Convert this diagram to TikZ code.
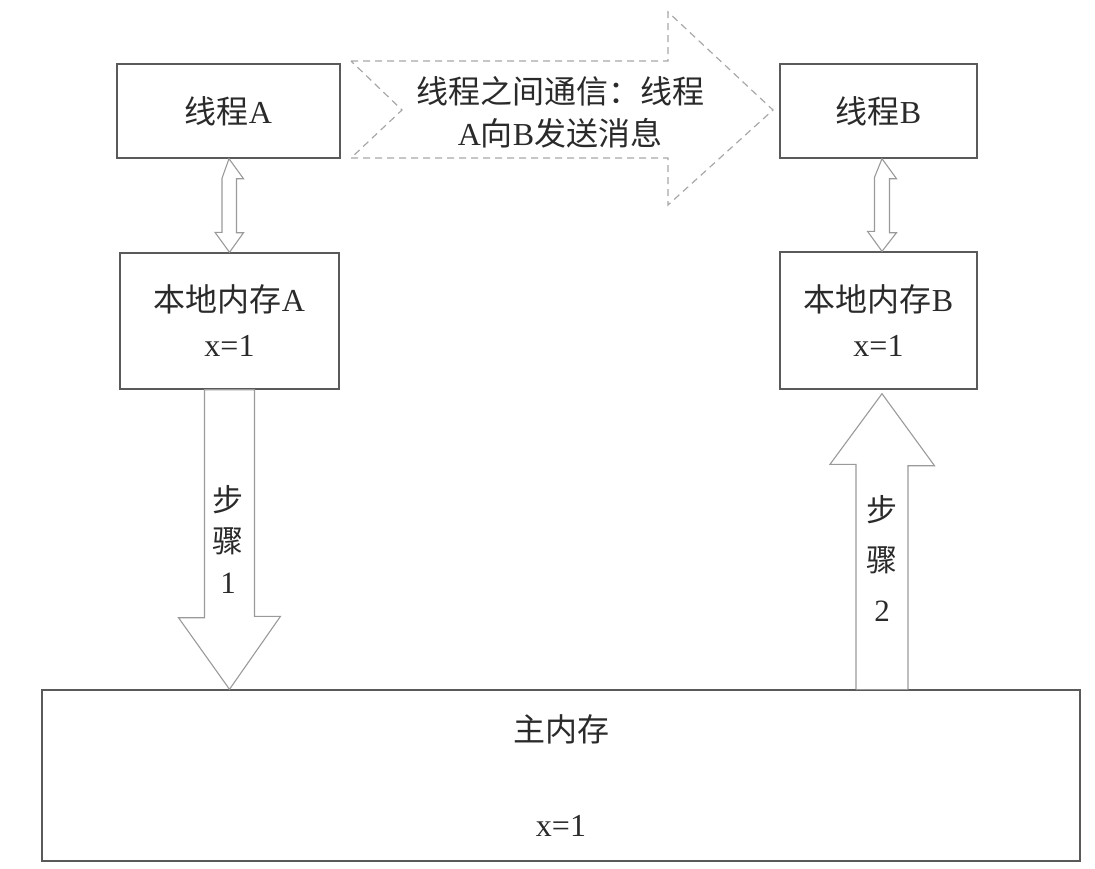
\documentclass[tikz,border=0pt]{standalone}
\usepackage{fontspec}
\setmainfont{Liberation Serif}
\newfontfamily\cjk{Noto Sans CJK SC}
\usetikzlibrary{calc}
\definecolor{boxline}{HTML}{5A5A5A}
\definecolor{arrline}{HTML}{9A9A9A}
\definecolor{dashline}{HTML}{A8A8A8}
\definecolor{txt}{HTML}{2A2A2A}
\tikzset{
  box/.style={draw=boxline, line width=1.4pt, rectangle, inner sep=0pt, align=center,
    text=txt, font=\fontsize{32}{45}\selectfont},
  fatarrow/.style={draw=arrline, line width=1.1pt, fill=white, line join=miter},
  msgarrow/.style={draw=dashline, line width=1.2pt, dash pattern=on 7pt off 5pt, fill=white},
  lbl/.style={text=txt, align=center, inner sep=0pt}
}
\begin{document}
\begin{tikzpicture}[x=1pt,y=-1pt]
\useasboundingbox (0,0) rectangle (1095,868);
% boxes
\node[box, minimum width=223pt, minimum height=94pt] (ta) at (228.5,111) {{\cjk 线程}A};
\node[box, minimum width=197pt, minimum height=94pt] (tb) at (878.5,111) {{\cjk 线程}B};
\node[box, minimum width=219pt, minimum height=136pt] (la) at (229.5,321) {{\cjk 本地内存}A\\x=1};
\node[box, minimum width=197pt, minimum height=137pt] (lb) at (878.5,320.5) {{\cjk 本地内存}B\\x=1};
\node[box, minimum width=1038pt, minimum height=171pt] (mm) at (561,775.5) {{\cjk 主内存}\\[50pt]x=1};

% double arrow A
\coordinate (da1) at ([xshift=0.5pt]ta.south);
\coordinate (da2) at (la.north);
\draw[fatarrow] (da1) -- ++(14.5,20) -- ++(-7,0) -- ++(0,54) -- ++(7,0) -- (da2)
  -- ++(-14.5,-20) -- ++(7,0) -- ++(0,-54) -- cycle;
% double arrow B
\coordinate (db1) at ([xshift=3.5pt]tb.south);
\coordinate (db2) at ([xshift=3.5pt]lb.north);
\draw[fatarrow] (db1) -- ++(14.5,20) -- ++(-7,0) -- ++(0,54) -- ++(7,0) -- (db2)
  -- ++(-14.5,-20) -- ++(7,0) -- ++(0,-54) -- cycle;

% step 1 arrow (down)
\coordinate (s1top) at (la.south);
\coordinate (s1tip) at (s1top |- mm.north);
\draw[fatarrow] ([xshift=-25pt]s1top) -- ++(0,228) -- ++(-26,0) -- (s1tip)
  -- ++(51,-73) -- ++(-26,0) -- ([xshift=25pt]s1top) -- cycle;
\node[lbl, font=\fontsize{31}{41}\selectfont] (st1) at (228,539) {{\cjk 步}\\{\cjk 骤}\\1};

% step 2 arrow (up)
\coordinate (s2base) at ([xshift=3.5pt]lb.south |- mm.north);
\coordinate (s2tip) at ([xshift=3.5pt,yshift=-4pt]lb.south);
\draw[fatarrow] ([xshift=-26pt]s2base) -- ++(0,-225) -- ++(-26,0) -- (s2tip)
  -- ++(52.5,72) -- ++(-26.5,0) -- ([xshift=26pt]s2base);
\node[lbl, font=\fontsize{31}{50}\selectfont] (st2) at (882,558) {{\cjk 步}\\{\cjk 骤}\\2};

% message arrow (dashed)
\draw[msgarrow] (351,61) -- (668,61) -- (668,12) -- (773,110) -- (668,205)
  -- (668,158) -- (351,158) -- (402,110) -- cycle;
\node[lbl, font=\fontsize{32}{42}\selectfont] (msg) at (560,112)
  {{\cjk 线程之间通信：线程}\\A{\cjk 向}B{\cjk 发送消息}};
\end{tikzpicture}
\end{document}
